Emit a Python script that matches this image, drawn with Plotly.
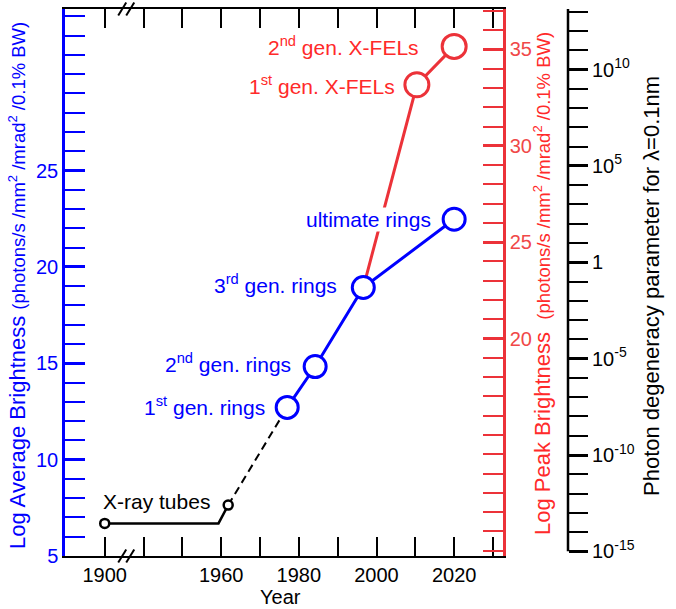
import plotly.graph_objects as go

# ---------------- data ----------------
# broken time axis: years before the break are shifted by +30 on the axis
BREAK_YEAR = 1935
BREAK_SHIFT = 30

x_tick_years = [1900, 1940, 1950, 1960, 1970, 1980, 1990, 2000, 2010, 2020, 2030]
x_tick_labels = ["1900", "", "", "1960", "", "1980", "", "2000", "", "2020", ""]

# X-ray tubes (log average brightness)
tube_years = [1900, 1959.3, 1961.8]
tube_avg = [6.69, 6.69, 7.64]
tube_marker_years = [1900, 1961.8]
tube_marker_avg = [6.69, 7.64]

# dashed extrapolation to first rings
dash_years = [1961.8, 1977.0]
dash_avg = [7.64, 12.71]

# storage rings (log average brightness)
ring_labels = ["1<sup>st</sup> gen. rings", "2<sup>nd</sup> gen. rings",
               "3<sup>rd</sup> gen. rings", "ultimate rings"]
ring_years = [1977.0, 1984.2, 1996.6, 2020.0]
ring_avg = [12.71, 14.83, 18.93, 22.47]

# X-FELs (log peak brightness); line starts at 3rd gen rings
fel_line_years = [1996.6, 2010.4, 2020.0]
fel_line_peak = [22.65, 33.17, 35.16]
fel_labels = ["1<sup>st</sup> gen. X-FELs", "2<sup>nd</sup> gen. X-FELs"]
fel_years = [2010.4, 2020.0]
fel_peak = [33.17, 35.16]

# axes
avg_range = [5, 33.38]
avg_major = [5, 10, 15, 20, 25, 30]
avg_major_text = ["5", "10", "15", "20", "25", ""]
avg_minor = list(range(6, 34))

peak_range = [8.72, 37.10]
peak_major = [10, 15, 20, 25, 30, 35]
peak_major_text = ["", "", "20", "25", "30", "35"]
peak_minor = list(range(9, 38))

deg_range = [-15.24, 13.14]
deg_major = [-15, -10, -5, 0, 5, 10]
deg_major_text = ["10<sup>-15</sup>", "10<sup>-10</sup>", "10<sup>-5</sup>", "1",
                  "10<sup>5</sup>", "10<sup>10</sup>"]
deg_minor = list(range(-14, 14))


def pos(y):
    return y + BREAK_SHIFT if y < BREAK_YEAR else y


# ---------------- layout geometry ----------------
W, H = 676, 609
PL, PR, PT, PB = 65, 503, 7, 556
PAPER_R = 656
PW = PAPER_R - PL
PH = PB - PT
XDOM = (PR - PL) / PW


def px(xp):
    return (xp - PL) / PW


def py(yp):
    return (PB - yp) / PH


FONT = "Liberation Sans, Arial, Helvetica, sans-serif"
BLUE = "#0000ff"
RED = "#ec3239"
RED_TXT = "#ff2a2a"
BLACK = "#000000"

fig = go.Figure()

# red (peak) traces on main y axis (drawn first / underneath)
fig.add_trace(go.Scatter(
    x=[pos(v) for v in fel_line_years], y=fel_line_peak, mode="lines",
    line=dict(color=RED, width=3), yaxis="y", hoverinfo="skip", showlegend=False))
fig.add_trace(go.Scatter(
    x=[pos(v) for v in fel_years], y=fel_peak, mode="markers",
    marker=dict(size=24, color="white", line=dict(color=RED, width=3)),
    yaxis="y", hoverinfo="skip", showlegend=False))

# black X-ray tube traces on average axis
fig.add_trace(go.Scatter(
    x=[pos(v) for v in tube_years], y=tube_avg, mode="lines",
    line=dict(color=BLACK, width=2.5), yaxis="y2", hoverinfo="skip", showlegend=False))
fig.add_trace(go.Scatter(
    x=[pos(v) for v in dash_years], y=dash_avg, mode="lines",
    line=dict(color=BLACK, width=2, dash="8px,5px"), yaxis="y2",
    hoverinfo="skip", showlegend=False))
fig.add_trace(go.Scatter(
    x=[pos(v) for v in tube_marker_years], y=tube_marker_avg, mode="markers",
    marker=dict(size=9, color="white", line=dict(color=BLACK, width=2.5)),
    yaxis="y2", hoverinfo="skip", showlegend=False))

# blue rings
fig.add_trace(go.Scatter(
    x=[pos(v) for v in ring_years], y=ring_avg, mode="lines+markers",
    line=dict(color=BLUE, width=3),
    marker=dict(size=22, color="white", line=dict(color=BLUE, width=3)),
    yaxis="y2", hoverinfo="skip", showlegend=False))

# dummy trace for degeneracy axis
fig.add_trace(go.Scatter(x=[pos(2000)], y=[0], mode="markers", marker=dict(opacity=0),
                         yaxis="y3", hoverinfo="skip", showlegend=False))

annotations = []
# ring labels
ring_shift = [(-21, 1), (-23, 4), (-25, 4), (-22, 0)]
for lab, yr, v, (dx, dy) in zip(ring_labels, ring_years, ring_avg, ring_shift):
    annotations.append(dict(x=pos(yr), y=v, xref="x", yref="y2", text=lab,
                            showarrow=False, xanchor="right", yanchor="middle",
                            xshift=dx, yshift=dy, bgcolor="white", borderpad=0,
                            font=dict(color=BLUE, size=21, family=FONT)))
fel_shift = [(-20, 0), (-33, 0)]
for lab, yr, v, (dx, dy) in zip(fel_labels, fel_years, fel_peak, fel_shift):
    annotations.append(dict(x=pos(yr), y=v, xref="x", yref="y", text=lab,
                            showarrow=False, xanchor="right", yanchor="middle",
                            xshift=dx, yshift=dy, font=dict(color=RED_TXT, size=21, family=FONT)))
annotations.append(dict(x=pos(tube_marker_years[0]), y=tube_marker_avg[0], xref="x", yref="y2",
                        text="X-ray tubes", showarrow=False, xanchor="left", yanchor="middle",
                        xshift=-4, yshift=22, font=dict(color=BLACK, size=21, family=FONT)))

unit = "(photons/s /mm<sup>2</sup> /mrad<sup>2</sup> /0.1% BW)"
annotations.append(dict(x=px(18), y=py(285), xref="paper", yref="paper", textangle=-90,
                        text="Log Average Brightness <span style='font-size:18.5px'>" + unit + "</span>",
                        showarrow=False, xanchor="center", yanchor="middle",
                        font=dict(color=BLUE, size=22, family=FONT)))
annotations.append(dict(x=px(543), y=py(283), xref="paper", yref="paper", textangle=-90,
                        text="Log Peak Brightness&nbsp;&nbsp;<span style='font-size:18.5px'>" + unit + "</span>",
                        showarrow=False, xanchor="center", yanchor="middle",
                        font=dict(color=RED_TXT, size=22, family=FONT)))
annotations.append(dict(x=px(652), y=py(285), xref="paper", yref="paper", textangle=-90,
                        text="Photon degeneracy parameter for λ=0.1nm",
                        showarrow=False, xanchor="center", yanchor="middle",
                        font=dict(color=BLACK, size=22, family=FONT)))
annotations.append(dict(x=px(280), y=py(597), xref="paper", yref="paper",
                        text="Year", showarrow=False, xanchor="center", yanchor="middle",
                        font=dict(color=BLACK, size=20, family=FONT)))

# axis break marks and degeneracy axis line
shapes = []
yr_per_px = 10 / 38.8
brk = pos(1900) + (126.5 - 105) * yr_per_px
for off in (-4, 4):
    cx = brk + off * yr_per_px
    for ypix in (PB, PT):
        shapes.append(dict(type="line", xref="x", yref="paper",
                           x0=cx - 4 * yr_per_px, x1=cx + 4 * yr_per_px,
                           y0=py(ypix + 6.5), y1=py(ypix - 6.5),
                           line=dict(color=BLACK, width=2)))
shapes.append(dict(type="line", xref="paper", yref="y3", x0=px(568), x1=px(568),
                   y0=deg_major[0], y1=deg_range[1], line=dict(color=BLACK, width=2.5)))

fig.update_layout(
    width=W, height=H,
    margin=dict(l=PL, r=W - PAPER_R, t=PT, b=H - PB),
    paper_bgcolor="white", plot_bgcolor="white",
    font=dict(family=FONT, size=20, color=BLACK),
    showlegend=False,
    xaxis=dict(
        domain=[0, XDOM], range=[1919.77, 2032.58],
        tickmode="array", tickvals=[pos(v) for v in x_tick_years], ticktext=x_tick_labels,
        ticks="inside", ticklen=19, tickwidth=2, tickcolor=BLACK,
        showline=True, linecolor=BLACK, linewidth=2, mirror="ticks",
        showgrid=False, zeroline=False, tickfont=dict(size=20, color=BLACK),
        anchor="y"),
    yaxis=dict(  # peak brightness (red, right)
        range=peak_range, side="right", anchor="x",
        tickmode="array", tickvals=peak_major, ticktext=peak_major_text,
        ticks="inside", ticklen=20, tickwidth=3, tickcolor=RED,
        minor=dict(tickmode="array", tickvals=peak_minor, ticks="inside", ticklen=20,
                   tickwidth=1.5, tickcolor=RED, showgrid=False),
        showline=True, linecolor=RED, linewidth=2.5,
        showgrid=False, zeroline=False, tickfont=dict(size=20, color="#f04848")),
    yaxis2=dict(  # average brightness (blue, left)
        range=avg_range, side="left", anchor="x", overlaying="y",
        tickmode="array", tickvals=avg_major, ticktext=avg_major_text,
        ticks="inside", ticklen=20, tickwidth=3, tickcolor=BLUE,
        minor=dict(tickmode="array", tickvals=avg_minor, ticks="inside", ticklen=20,
                   tickwidth=1.5, tickcolor=BLUE, showgrid=False),
        showline=True, linecolor=BLUE, linewidth=2.5,
        showgrid=False, zeroline=False, tickfont=dict(size=20, color=BLUE)),
    yaxis3=dict(  # photon degeneracy (black, free)
        range=deg_range, side="right", anchor="free", position=px(568), overlaying="y",
        tickmode="array", tickvals=deg_major, ticktext=deg_major_text,
        ticks="outside", ticklen=19, tickwidth=3, tickcolor=BLACK,
        minor=dict(tickmode="array", tickvals=deg_minor, ticks="outside", ticklen=19,
                   tickwidth=1.5, tickcolor=BLACK, showgrid=False),
        showline=False, showgrid=False, zeroline=False,
        tickfont=dict(size=20, color=BLACK)),
    annotations=annotations,
    shapes=shapes,
)

fig.write_html("out.html", config={"displayModeBar": False},
               post_script="document.body.style.margin='0px';document.body.style.overflow='hidden';")
